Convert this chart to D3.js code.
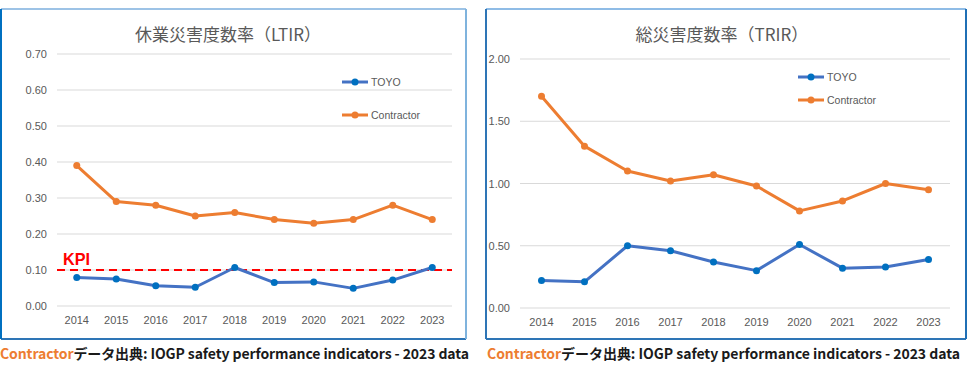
<!DOCTYPE html>
<html><head><meta charset="utf-8">
<script src="https://cdn.jsdelivr.net/npm/d3@7"></script>
<style>body{margin:0;background:#fff}svg{display:block}</style>
</head><body>
<svg id="c" width="970" height="376"></svg>
<script>
const years = ["2014","2015","2016","2017","2018","2019","2020","2021","2022","2023"];
const ltirToyo = [0.079,0.075,0.056,0.052,0.107,0.065,0.067,0.049,0.072,0.107];
const ltirContractor = [0.39,0.29,0.28,0.25,0.26,0.24,0.23,0.24,0.28,0.24];
const ltirTicks = [0,0.1,0.2,0.3,0.4,0.5,0.6,0.7];
const ltirKPI = 0.10;
const trirToyo = [0.22,0.21,0.50,0.46,0.37,0.30,0.51,0.32,0.33,0.39];
const trirContractor = [1.70,1.30,1.10,1.02,1.07,0.98,0.78,0.86,1.00,0.95];
const trirTicks = [0,0.5,1.0,1.5,2.0];
const seriesNames = ["TOYO","Contractor"];

const svg = d3.select("#c");
const lineCol = {TOYO:"#4472c4", Contractor:"#ed7d31"};
const dotCol = {TOYO:"#0070c0", Contractor:"#ed7d31"};

function panel(o){
  const g = svg.append("g");
  // border
  const b = o.box;
  g.append("line").attr("x1",b.x).attr("x2",b.x+b.w).attr("y1",b.y).attr("y2",b.y).attr("stroke",o.bc.top).attr("stroke-width",2);
  g.append("line").attr("x1",b.x).attr("x2",b.x+b.w).attr("y1",b.y+b.h).attr("y2",b.y+b.h).attr("stroke",o.bc.bottom).attr("stroke-width",2);
  g.append("line").attr("x1",b.x).attr("x2",b.x).attr("y1",b.y).attr("y2",b.y+b.h).attr("stroke",o.bc.left).attr("stroke-width",2);
  g.append("line").attr("x1",b.x+b.w).attr("x2",b.x+b.w).attr("y1",b.y).attr("y2",b.y+b.h).attr("stroke",o.bc.right).attr("stroke-width",2);

  const x = d3.scaleBand().domain(years).range([o.x0,o.x1]);
  const y = d3.scaleLinear().domain([0,o.ymax]).range([o.y0,o.y1]);
  // grid
  g.selectAll(".grid").data(o.ticks).join("line")
    .attr("x1",o.x0).attr("x2",o.x1)
    .attr("y1",d=>y(d)).attr("y2",d=>y(d))
    .attr("stroke","#d9d9d9").attr("stroke-width",1);
  // y labels
  const ya = g.append("g").attr("transform",`translate(${o.x0},0)`)
    .call(d3.axisLeft(y).tickValues(o.ticks).tickFormat(d3.format(".2f")).tickSize(0).tickPadding(o.ypad));
  ya.select(".domain").remove();
  ya.selectAll("text").attr("font-family","Liberation Sans, Arial, sans-serif").attr("font-size",11).attr("fill","#595959");
  // x labels
  const xa = g.append("g").attr("transform",`translate(0,${o.y0})`)
    .call(d3.axisBottom(x).tickSize(0).tickPadding(o.xpad));
  xa.select(".domain").remove();
  xa.selectAll("text").attr("font-family","Liberation Sans, Arial, sans-serif").attr("font-size",11).attr("fill","#595959");
  // title
  g.append("text").attr("x",o.tx).attr("y",41).attr("text-anchor","middle")
    .attr("font-family","Noto Sans CJK JP, sans-serif").attr("font-size",17).attr("fill","#595959")
    .text(o.title);
  // KPI
  if(o.kpi!==undefined){
    g.append("line").attr("x1",o.x0).attr("x2",o.x1).attr("y1",y(o.kpi)).attr("y2",y(o.kpi))
      .attr("stroke","#ff0000").attr("stroke-width",2).attr("stroke-dasharray","8,5");
    g.append("text").attr("x",63).attr("y",y(o.kpi)-5)
      .attr("font-family","Liberation Sans, Arial, sans-serif").attr("font-weight","bold")
      .attr("font-size",17).attr("fill","#ff0000").attr("textLength",27).attr("lengthAdjust","spacingAndGlyphs").text("KPI");
  }
  const cx = d=>x(d)+x.bandwidth()/2;
  const line = d3.line().x((d,i)=>cx(years[i])).y(d=>y(d));
  [["Contractor",o.contractor],["TOYO",o.toyo]].forEach(([n,vals])=>{
    g.append("path").datum(vals).attr("d",line).attr("fill","none")
      .attr("stroke",lineCol[n]).attr("stroke-width",3).attr("stroke-linejoin","round");
    g.selectAll(null).data(vals).join("circle")
      .attr("cx",(d,i)=>cx(years[i])).attr("cy",d=>y(d)).attr("r",3.5).attr("fill",dotCol[n]);
  });
  // legend
  seriesNames.forEach((n,i)=>{
    const ly = o.ly[i];
    g.append("line").attr("x1",o.lx).attr("x2",o.lx+26).attr("y1",ly).attr("y2",ly)
      .attr("stroke",lineCol[n]).attr("stroke-width",3);
    g.append("circle").attr("cx",o.lx+13).attr("cy",ly).attr("r",3.5).attr("fill",dotCol[n]);
    g.append("text").attr("x",o.lx+29).attr("y",ly).attr("dy","0.35em")
      .attr("font-family","Liberation Sans, Arial, sans-serif").attr("font-size",10.5).attr("fill","#595959").text(n);
  });
  // caption
  const cap = g.append("text").attr("x",o.capx).attr("y",359)
    .attr("font-family","Noto Sans CJK JP, sans-serif").attr("font-weight","bold").attr("font-size",14)
    .attr("textLength",o.capw).attr("lengthAdjust","spacing");
  cap.append("tspan").attr("fill","#ed7d31").text("Contractor");
  cap.append("tspan").attr("fill","#1a1a1a").text("データ出典: IOGP safety performance indicators - 2023 data");
}

panel({box:{x:1,y:9,w:465,h:330}, bc:{top:"#9dc3e6",left:"#0070c0",right:"#7fb3dd",bottom:"#2e75b6"},
  x0:57,x1:452,y0:306,y1:54,ymax:0.7,ticks:ltirTicks,ypad:10,xpad:10,
  title:"休業災害度数率（LTIR）",tx:228,kpi:ltirKPI,toyo:ltirToyo,contractor:ltirContractor,
  lx:342,ly:[82,115],capx:0,capw:469});
panel({box:{x:486,y:9,w:480,h:330}, bc:{top:"#8fbce6",left:"#2e75b6",right:"#1f6fb5",bottom:"#2e75b6"},
  x0:520,x1:950,y0:308,y1:59,ymax:2.0,ticks:trirTicks,ypad:10,xpad:10,
  title:"総災害度数率（TRIR）",tx:722,toyo:trirToyo,contractor:trirContractor,
  lx:798,ly:[77,100],capx:487,capw:473});
</script>
</body></html>
